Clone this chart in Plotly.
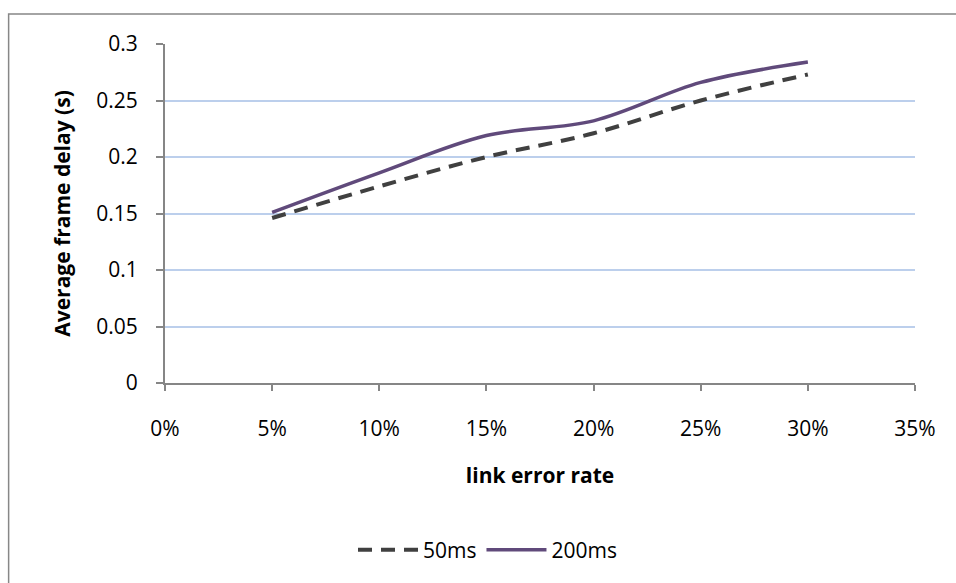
import plotly.graph_objects as go

# Link error rate (fraction) and average frame delay in seconds
error_rate = [0.05, 0.10, 0.15, 0.20, 0.25, 0.30]
delay_50ms = [0.146, 0.174, 0.200, 0.221, 0.250, 0.273]
delay_200ms = [0.151, 0.186, 0.219, 0.232, 0.266, 0.284]
series_names = ["50ms", "200ms"]

FONT = "Open Sans"
AXIS_GRAY = "#868686"

fig = go.Figure()
fig.add_trace(go.Scatter(
    x=error_rate, y=delay_50ms, name=series_names[0], mode="lines",
    line=dict(color="#404040", width=4, dash="14px,9px", shape="spline", smoothing=1.0),
))
fig.add_trace(go.Scatter(
    x=error_rate, y=delay_200ms, name=series_names[1], mode="lines",
    line=dict(color="#604A7B", width=3.5, shape="spline", smoothing=1.0),
))

fig.update_layout(
    width=956, height=583,
    margin=dict(l=165, r=41, t=44, b=200),
    paper_bgcolor="white", plot_bgcolor="white",
    font=dict(family=FONT, size=21, color="#000000"),
    showlegend=True,
    legend=dict(orientation="h", x=0.43, xanchor="center", y=-0.493, yanchor="middle",
                font=dict(size=21), itemwidth=60, tracegroupgap=0),
    shapes=[dict(type="rect", xref="paper", yref="paper",
                 x0=-0.2085, x1=1.10, y0=-0.65, y1=1.0885,
                 line=dict(color="#878787", width=1.5), layer="below")],
)

fig.update_xaxes(
    range=[0, 0.35], dtick=0.05, tick0=0, tickformat=".0%",
    showgrid=False, zeroline=False,
    showline=True, linecolor=AXIS_GRAY, linewidth=2,
    ticks="outside", ticklen=6, tickwidth=2, tickcolor=AXIS_GRAY,
    ticklabelstandoff=20,
    title=dict(text="<b>link error rate</b>", font=dict(size=21), standoff=27),
)
fig.update_yaxes(
    range=[0, 0.3], dtick=0.05, tick0=0,
    showgrid=True, gridcolor="#BCCFEC", gridwidth=1.5, zeroline=False,
    showline=True, linecolor=AXIS_GRAY, linewidth=2,
    ticks="outside", ticklen=7, tickwidth=2, tickcolor=AXIS_GRAY,
    ticklabelstandoff=14,
    title=dict(text="<b>Average frame delay (s)</b>", font=dict(size=21), standoff=20),
)

fig.write_html("out.html")
